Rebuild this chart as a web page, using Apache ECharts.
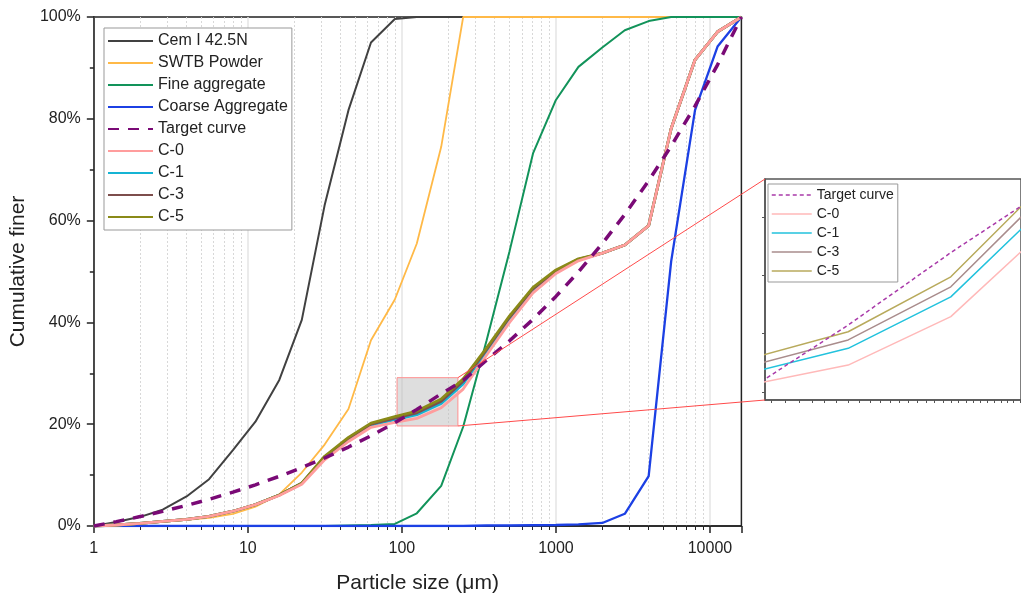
<!DOCTYPE html>
<html><head><meta charset="utf-8">
<script src="https://cdn.jsdelivr.net/npm/echarts@6/dist/echarts.min.js"></script>
<style>html,body{margin:0;padding:0;background:#fff}#c{width:1021px;height:600px}</style>
</head><body><div id="c"></div>
<script>
// ---------- data ----------
const sizes = [1, 1.4, 2, 2.8, 4, 5.6, 8, 11.2, 16, 22.4, 31.5, 45, 63, 90, 125, 180, 250, 355, 500, 710, 1000, 1400, 2000, 2800, 4000, 5600, 8000, 11200, 16000];
const cem = [0, 0.8, 1.8, 3.2, 5.8, 9.2, 14.9, 20.5, 28.7, 40.5, 63, 81.7, 95, 99.6, 100, 100, 100, 100, 100, 100, 100, 100, 100, 100, 100, 100, 100, 100, 100];
const swtb = [0, 0.2, 0.5, 0.8, 1.2, 1.6, 2.4, 3.8, 6.2, 10.5, 16, 23, 36.5, 44.5, 55.5, 74.5, 100, 100, 100, 100, 100, 100, 100, 100, 100, 100, 100, 100, 100];
const fineAgg = [0, 0, 0, 0, 0, 0, 0, 0, 0, 0, 0, 0.1, 0.2, 0.4, 2.5, 7.9, 19.5, 36.5, 54, 73.2, 83.7, 90.2, 94, 97.4, 99.2, 100, 100, 100, 100];
const coarseAgg = [0, 0, 0, 0, 0, 0, 0, 0, 0, 0, 0, 0, 0, 0, 0, 0, 0, 0.1, 0.1, 0.15, 0.2, 0.3, 0.6, 2.4, 9.8, 52, 81.7, 94.2, 100];
const target = [0, 0.86, 1.85, 2.87, 4.04, 5.25, 6.65, 8.09, 9.76, 11.47, 13.36, 15.51, 17.73, 20.29, 22.87, 25.98, 28.6, 32.59, 36.38, 40.6, 45.11, 49.92, 55.49, 61.21, 67.83, 74.64, 82.51, 90.61, 100];
const c0 = [0, 0.2, 0.5, 0.9, 1.3, 1.9, 2.9, 4.2, 6.0, 8.2, 13.0, 16.6, 19.4, 20.35, 21.15, 23.23, 26.9, 33.6, 40.0, 45.8, 49.6, 52.1, 53.6, 55.2, 59.0, 78.1, 91.6, 97.1, 100];
const c1 = [0, 0.2, 0.5, 0.9, 1.3, 1.9, 2.9, 4.2, 6.1, 8.4, 13.3, 17.0, 19.8, 20.88, 21.87, 24.08, 27.9, 34.4, 40.8, 46.4, 50.0, 52.3, 53.6, 55.2, 59.0, 78.1, 91.6, 97.1, 100];
const c3 = [0, 0.2, 0.5, 0.9, 1.3, 1.9, 2.9, 4.2, 6.1, 8.4, 13.5, 17.2, 20.0, 21.18, 22.23, 24.51, 28.45, 34.7, 41.0, 46.6, 50.1, 52.4, 53.6, 55.2, 59.0, 78.1, 91.6, 97.1, 100];
const c5 = [0, 0.2, 0.5, 0.9, 1.3, 1.9, 2.9, 4.2, 6.1, 8.4, 13.7, 17.4, 20.2, 21.5, 22.58, 24.94, 28.9, 35.0, 41.3, 46.9, 50.3, 52.5, 53.6, 55.2, 59.0, 78.1, 91.6, 97.1, 100];
const xTicks = [1, 10, 100, 1000, 10000];
const zoomX = [93, 231];
const zoomY = [19.65, 29.14];
const insetYTicks = [20, 22.5, 25, 27.5];
const insetXTicks = [95, 100, 105, 110, 115, 120, 125, 130, 135, 140, 145, 150, 155, 160, 165, 170, 175, 180, 185, 190, 195, 200, 205, 210, 215, 220, 225, 230];
const mainLegend = ['Cem I 42.5N', 'SWTB Powder', 'Fine aggregate', 'Coarse Aggregate', 'Target curve', 'C-0', 'C-1', 'C-3', 'C-5'];

// ---------- chart ----------
const FONT = 'Liberation Sans, Arial, sans-serif';
const pair = arr => sizes.map((s, i) => [s, arr[i]]);
function line(name, arr, color, width, grid, extra) {
  return Object.assign({
    name, type: 'line', data: pair(arr), xAxisIndex: grid, yAxisIndex: grid,
    symbol: 'none', showSymbol: false, smooth: false, clip: true, silent: true,
    lineStyle: { color, width }, itemStyle: { color }, z: 3
  }, extra || {});
}
const COL = {
  cem: '#414141', swtb: '#ffb947', fine: '#12935a', coarse: '#1c40e4', target: '#7a0a76',
  c0: '#ff9d9d', c1: '#15b4d4', c3: '#7d4e4c', c5: '#8a8a18'
};
const ICOL = { target: '#a93aa9', c0: '#ffb9b9', c1: '#22c2dd', c3: '#a98c8c', c5: '#b8aa5c' };

const chart = echarts.init(document.getElementById('c'), null, { renderer: 'canvas' });
const option = {
  animation: false,
  textStyle: { fontFamily: FONT },
  grid: [
    { left: 93, top: 17, width: 648.4, height: 509, show: true, borderColor: '#222', borderWidth: 1.5, backgroundColor: 'transparent' },
    { left: 765, top: 179, width: 273, height: 221, show: true, borderColor: '#555', borderWidth: 1.5, backgroundColor: '#fff' }
  ],
  xAxis: [
    {
      type: 'log', logBase: 10, min: 1, max: 16000, gridIndex: 0,
      name: 'Particle size (\u03bcm)', nameLocation: 'middle', nameGap: 47,
      nameTextStyle: { fontSize: 21, color: '#222', fontFamily: FONT },
      axisLine: { show: true, lineStyle: { color: '#222', width: 1.5 } },
      axisTick: { show: true, length: 7, lineStyle: { color: '#222', width: 1.5 } },
      minorTick: { show: true, splitNumber: 9, length: 4, lineStyle: { color: '#222', width: 1 } },
      splitLine: { show: true, showMaxLine: false, lineStyle: { color: '#e4e4e4', width: 1.5 } },
      minorSplitLine: { show: true, lineStyle: { color: '#d8d8d8', width: 1, type: [2, 2] } },
      axisLabel: { fontSize: 16, color: '#222', margin: 15, showMaxLabel: false,
        formatter: v => (xTicks.indexOf(v) >= 0 ? String(v) : '') }
    },
    {
      type: 'log', logBase: 10, min: zoomX[0], max: zoomX[1], gridIndex: 1,
      axisLine: { show: true, lineStyle: { color: '#555', width: 1.5 } },
      axisTick: { show: true, length: 3, customValues: insetXTicks, lineStyle: { color: '#555', width: 1 } },
      axisLabel: { show: false }, splitLine: { show: false }
    }
  ],
  yAxis: [
    {
      type: 'value', min: 0, max: 100, interval: 20, gridIndex: 0,
      name: 'Cumulative finer', nameLocation: 'middle', nameGap: 58,
      nameTextStyle: { fontSize: 21, color: '#222', fontFamily: FONT },
      axisLine: { show: true, lineStyle: { color: '#222', width: 1.5 } },
      axisTick: { show: true, length: 7, lineStyle: { color: '#222', width: 1.5 } },
      minorTick: { show: true, splitNumber: 2, length: 4, lineStyle: { color: '#222', width: 1.5 } },
      splitLine: { show: false },
      axisLabel: { fontSize: 16, color: '#222', margin: 13, formatter: '{value}%' }
    },
    {
      type: 'value', min: zoomY[0], max: zoomY[1], gridIndex: 1,
      axisLine: { show: true, lineStyle: { color: '#555', width: 1.5 } },
      axisTick: { show: true, length: 3, customValues: insetYTicks, lineStyle: { color: '#555', width: 1 } },
      axisLabel: { show: false }, splitLine: { show: false }
    }
  ],
  legend: [
    {
      data: mainLegend, orient: 'vertical', left: 104, top: 28,
      padding: [4, 4, 4, 3], itemGap: 4, itemWidth: 45, itemHeight: 14,
      backgroundColor: '#fff', borderColor: '#999', borderWidth: 1,
      textStyle: { fontSize: 16, color: '#222', lineHeight: 18, fontFamily: FONT },
      itemStyle: { opacity: 0 }, selectedMode: false
    },
    {
      data: [
        { name: 'Target curve', lineStyle: { color: ICOL.target, width: 1.5, type: [4, 3] } },
        { name: 'C-0', lineStyle: { color: ICOL.c0, width: 1.5 } },
        { name: 'C-1', lineStyle: { color: ICOL.c1, width: 1.5 } },
        { name: 'C-3', lineStyle: { color: ICOL.c3, width: 1.5 } },
        { name: 'C-5', lineStyle: { color: ICOL.c5, width: 1.5 } }
      ],
      orient: 'vertical', left: 768, top: 184,
      padding: [3, 4, 3, 3], itemGap: 3, itemWidth: 40, itemHeight: 10,
      backgroundColor: '#fff', borderColor: '#999', borderWidth: 1,
      textStyle: { fontSize: 14, color: '#222', lineHeight: 16, fontFamily: FONT },
      itemStyle: { opacity: 0 }, selectedMode: false
    }
  ],
  series: [
    { name: 'zoom', type: 'line', data: [], xAxisIndex: 0, yAxisIndex: 0, z: 1, silent: true,
      markArea: { silent: true, itemStyle: { color: 'rgba(190,190,190,0.5)', borderColor: '#ff8f8f', borderWidth: 1 },
        data: [[{ coord: [zoomX[0], zoomY[0]] }, { coord: [zoomX[1], zoomY[1]] }]] } },
    line('Cem I 42.5N', cem, COL.cem, 2, 0),
    line('SWTB Powder', swtb, COL.swtb, 1.8, 0),
    line('Fine aggregate', fineAgg, COL.fine, 2, 0),
    line('Coarse Aggregate', coarseAgg, COL.coarse, 2.3, 0),
    line('C-1', c1, COL.c1, 2.8, 0),
    line('C-3', c3, COL.c3, 2.8, 0),
    line('C-5', c5, COL.c5, 2.8, 0),
    line('C-0', c0, COL.c0, 2.8, 0),
    line('Target curve', target, COL.target, 3.5, 0, { lineStyle: { color: COL.target, width: 3.5, type: [11, 9] }, z: 4 }),
    line('C-0', c0, ICOL.c0, 1.5, 1),
    line('C-1', c1, ICOL.c1, 1.5, 1),
    line('C-3', c3, ICOL.c3, 1.5, 1),
    line('C-5', c5, ICOL.c5, 1.5, 1),
    line('Target curve', target, ICOL.target, 1.5, 1, { lineStyle: { color: ICOL.target, width: 1.5, type: [4, 3] } })
  ]
};
chart.setOption(option);

// connector lines from zoom box (main axes) to inset corners (inset axes)
const a1 = chart.convertToPixel({ xAxisIndex: 0, yAxisIndex: 0 }, [zoomX[1], zoomY[1]]);
const a2 = chart.convertToPixel({ xAxisIndex: 0, yAxisIndex: 0 }, [zoomX[1], zoomY[0]]);
const b1 = chart.convertToPixel({ xAxisIndex: 1, yAxisIndex: 1 }, [zoomX[0], zoomY[1]]);
const b2 = chart.convertToPixel({ xAxisIndex: 1, yAxisIndex: 1 }, [zoomX[0], zoomY[0]]);
chart.setOption({
  graphic: [
    { type: 'line', z: 100, silent: true, shape: { x1: a1[0], y1: a1[1], x2: b1[0], y2: b1[1] }, style: { stroke: '#ff4a4a', lineWidth: 1 } },
    { type: 'line', z: 100, silent: true, shape: { x1: a2[0], y1: a2[1], x2: b2[0], y2: b2[1] }, style: { stroke: '#ff4a4a', lineWidth: 1 } }
  ]
});
</script></body></html>
